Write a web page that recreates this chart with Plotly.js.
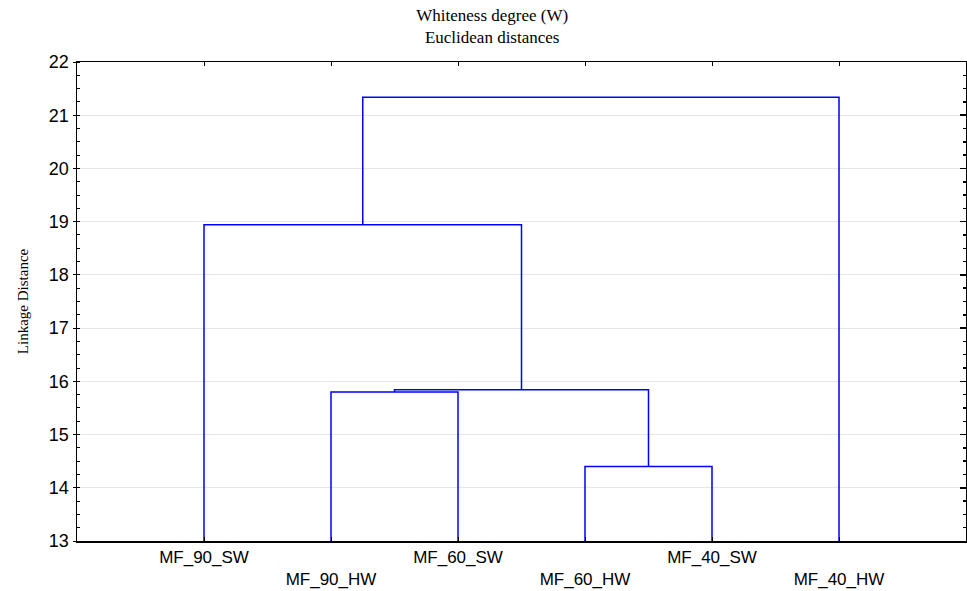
<!DOCTYPE html>
<html>
<head>
<meta charset="utf-8">
<script src="https://cdn.plot.ly/plotly-3.0.1.min.js"></script>
<style>html,body{margin:0;padding:0;background:#fff;}#chart{width:967px;height:591px;}</style>
</head>
<body>
<div id="chart"></div>
<script>
// Leaves (in dendrogram order)
const leafLabels = ['MF_90_SW','MF_90_HW','MF_60_SW','MF_60_HW','MF_40_SW','MF_40_HW'];
// Merges: children node ids (0-5 leaves, 6+ merged clusters) and linkage distance
const mergeLeft   = [1, 3, 6, 0, 9];
const mergeRight  = [2, 4, 7, 8, 5];
const mergeHeight = [15.80, 14.40, 15.84, 18.94, 21.34];
const baseHeight = 13;
const yTickVals = [13,14,15,16,17,18,19,20,21,22];

// Build node positions and heights
const nodeX = leafLabels.map((_, i) => i + 1);
const nodeH = leafLabels.map(() => baseHeight);
const xs = [], ys = [];
for (let k = 0; k < mergeHeight.length; k++) {
  const a = mergeLeft[k], b = mergeRight[k], h = mergeHeight[k];
  xs.push(nodeX[a], nodeX[a], nodeX[b], nodeX[b], null);
  ys.push(nodeH[a], h, h, nodeH[b], null);
  nodeX.push((nodeX[a] + nodeX[b]) / 2);
  nodeH.push(h);
}

const tickText = leafLabels.map((t, i) => (i % 2 === 1 ? '<br>' + t : t));

const data = [
  {x: xs, y: ys, type: 'scatter', mode: 'lines',
   line: {color: '#0000ff', width: 1.5}, hoverinfo: 'skip', showlegend: false},
  {x: [0], y: [13], yaxis: 'y2', type: 'scatter', mode: 'markers',
   marker: {opacity: 0}, hoverinfo: 'skip', showlegend: false}
];

const layout = {
  width: 967, height: 591,
  margin: {l: 77, r: 1, t: 62, b: 50},
  paper_bgcolor: '#ffffff', plot_bgcolor: '#ffffff',
  showlegend: false,
  title: {
    text: 'Whiteness degree (W)<br>Euclidean distances',
    font: {family: 'Liberation Serif, Times New Roman, serif', size: 17, color: '#000'},
    x: 0.509, xref: 'container', xanchor: 'center',
    y: 0.964, yref: 'container', yanchor: 'top'
  },
  xaxis: {
    range: [0, 7], tickmode: 'array',
    tickvals: leafLabels.map((_, i) => i + 1), ticktext: tickText,
    ticks: 'inside', ticklen: 4, tickcolor: '#000', tickwidth: 1,
    showline: true, linecolor: '#000', linewidth: 1.5, mirror: 'ticks',
    showgrid: false, zeroline: false,
    tickfont: {family: 'Liberation Sans, Arial, sans-serif', size: 17, color: '#000'}
  },
  yaxis: {
    range: [13, 22], tickmode: 'array', tickvals: yTickVals,
    ticks: 'outside', ticklen: 3, tickcolor: '#000',
    showline: true, linecolor: '#000', linewidth: 1.5,
    showgrid: true, gridcolor: '#e6e6e6', gridwidth: 1, zeroline: false,
    minor: {dtick: 0.25, ticks: 'inside', ticklen: 3, tickcolor: '#000', showgrid: false},
    tickfont: {family: 'Liberation Sans, Arial, sans-serif', size: 18, color: '#000'},
    title: {text: 'Linkage Distance', standoff: 16,
            font: {family: 'Liberation Serif, Times New Roman, serif', size: 15, color: '#000'}}
  },
  yaxis2: {
    overlaying: 'y', side: 'right', range: [13, 22],
    tickmode: 'array', tickvals: yTickVals, showticklabels: false,
    ticks: 'inside', ticklen: 6, tickcolor: '#000', tickwidth: 1.5,
    minor: {dtick: 0.25, ticks: 'inside', ticklen: 3, tickcolor: '#000', showgrid: false},
    showline: true, linecolor: '#000', linewidth: 1.5,
    showgrid: false, zeroline: false
  }
};

Plotly.newPlot('chart', data, layout, {displayModeBar: false, staticPlot: true});
</script>
</body>
</html>
